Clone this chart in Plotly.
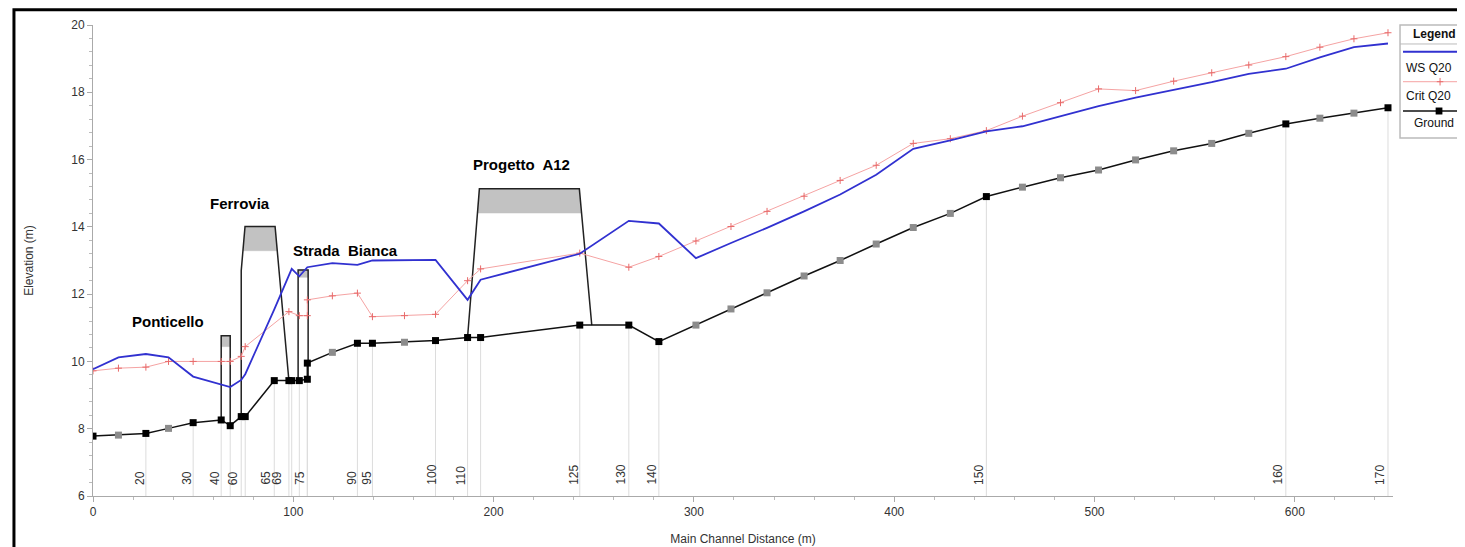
import plotly.graph_objects as go

# ground profile: distance (m), elevation (m), section type (xs = cross section, int = interpolated)
ground_x = [0, 12.7, 26.4, 37.7, 50, 64, 68.5, 74, 76, 90.5, 97.8, 99.2, 103, 107, 107,
            119.5, 132, 139.5, 155.5, 171, 187, 193.5, 243, 267.5, 282.5, 301, 318.5,
            336.5, 355, 373, 391, 409.5, 428, 446, 464, 483, 502, 520.5, 539.5, 558.5,
            577, 595.5, 612.5, 629.5, 646.5]
ground_y = [7.78, 7.81, 7.86, 8.01, 8.18, 8.26, 8.09, 8.36, 8.36, 9.43, 9.43, 9.43, 9.43, 9.47, 9.95,
            10.27, 10.54, 10.54, 10.57, 10.62, 10.71, 10.71, 11.08, 11.08, 10.59, 11.08, 11.56,
            12.04, 12.54, 13.0, 13.49, 13.98, 14.40, 14.90, 15.18, 15.46, 15.69, 15.99, 16.26, 16.48,
            16.78, 17.06, 17.23, 17.38, 17.54]
ground_kind = ['xs', 'int', 'xs', 'int', 'xs', 'xs', 'xs', 'xs', 'xs', 'xs', 'xs', 'xs', 'xs', 'xs', 'xs',
               'int', 'xs', 'xs', 'int', 'xs', 'xs', 'xs', 'xs', 'xs', 'xs', 'int', 'int',
               'int', 'int', 'int', 'int', 'int', 'int', 'xs', 'int', 'int', 'int', 'int', 'int', 'int',
               'int', 'xs', 'int', 'int', 'xs']

# water surface Q20
ws_x = [0, 12.7, 26.4, 37.7, 50, 64, 68.5, 74, 76, 90.5, 99.2, 103, 107, 119.5, 132, 139.5,
        155.5, 171, 187, 193.5, 243, 267.5, 282.5, 301, 318.5, 336.5, 355, 373, 391, 409.5,
        428, 446, 464, 483, 502, 520.5, 539.5, 558.5, 577, 595.5, 612.5, 629.5, 646.5]
ws_y = [9.77, 10.12, 10.22, 10.12, 9.55, 9.32, 9.24, 9.45, 9.62, 11.55, 12.75, 12.53, 12.8, 12.92, 12.87, 13.0,
        13.0, 13.02, 11.83, 12.43, 13.2, 14.18, 14.1, 13.07, 13.52, 13.97, 14.46, 14.96, 15.55, 16.32,
        16.57, 16.84, 16.99, 17.28, 17.59, 17.84, 18.06, 18.30, 18.55, 18.70, 19.04, 19.34, 19.45]

# critical depth Q20
crit_x = [0, 12.7, 26.4, 37.7, 50, 64, 68.5, 74, 76, 97.8, 103, 107, 107, 119.5, 132, 139.5,
          155.5, 171, 187, 193.5, 243, 267.5, 282.5, 301, 318.5, 336.5, 355, 373, 391, 409.5,
          428, 446, 464, 483, 502, 520.5, 539.5, 558.5, 577, 595.5, 612.5, 629.5, 646.5]
crit_y = [9.72, 9.8, 9.83, 10.0, 10.0, 10.0, 10.0, 10.15, 10.44, 11.48, 11.36, 11.36, 11.83, 11.95, 12.03, 11.33,
          11.36, 11.4, 12.4, 12.75, 13.22, 12.8, 13.12, 13.58, 14.01, 14.46, 14.91, 15.38, 15.83, 16.48,
          16.62, 16.86, 17.29, 17.69, 18.10, 18.05, 18.33, 18.58, 18.81, 19.06, 19.34, 19.59, 19.77]

# river station labels
station_labels = ['20', '30', '40', '60', '65', '69', '75', '90', '95', '100', '110',
                  '125', '130', '140', '150', '160', '170']
station_label_x = [23.5, 46.9, 60.9, 70.0, 86.2, 91.8, 103.3, 129.2, 136.7, 169.1, 184.1,
                   240.1, 263.4, 278.9, 442.3, 591.4, 642.5]

# bridges: outline and deck polygon
bridge_names = ['Ponticello', 'Ferrovia', 'Strada  Bianca', 'Progetto  A12']
bridge_label_x = [37.4, 73.4, 126.3, 213.7]
bridge_label_y = [11.18, 14.69, 13.29, 15.85]
bridge_outline_x = [[64, 64, 68.5, 68.5],
                    [74, 74, 75.9, 90.9, 97.8],
                    [102.4, 102.4, 107.4, 107.4],
                    [187, 192.9, 242.8, 249]]
bridge_outline_y = [[8.26, 10.76, 10.76, 8.09],
                    [8.36, 12.7, 14.01, 14.01, 9.43],
                    [9.43, 12.72, 12.72, 9.47],
                    [10.72, 15.13, 15.13, 11.08]]
deck_x = [[64, 68.5, 68.5, 64],
          [75.9, 90.9, 92.0, 74.9],
          [102.4, 107.4, 107.4, 102.4],
          [192.9, 242.8, 243.6, 192.0]]
deck_y = [[10.76, 10.76, 10.44, 10.44],
          [14.01, 14.01, 13.29, 13.29],
          [12.72, 12.72, 12.5, 12.5],
          [15.13, 15.13, 14.41, 14.41]]

y_min, y_max = 6, 20
x_min, x_max = 0, 649

fig = go.Figure()

# vertical station lines from ground down to the axis
vx, vy = [], []
for gx, gy, k in zip(ground_x, ground_y, ground_kind):
    if k == 'xs' and gx > 0:
        vx += [gx, gx, None]
        vy += [gy, y_min, None]
fig.add_trace(go.Scatter(x=vx, y=vy, mode='lines', line=dict(color='#dcdcdc', width=1),
                         hoverinfo='skip', showlegend=False))

for bx, by in zip(deck_x, deck_y):
    fig.add_trace(go.Scatter(x=bx + [bx[0]], y=by + [by[0]], mode='lines', fill='toself',
                             fillcolor='#c2c2c2', line=dict(color='#c2c2c2', width=0.5),
                             hoverinfo='skip', showlegend=False))
for bx, by in zip(bridge_outline_x, bridge_outline_y):
    fig.add_trace(go.Scatter(x=bx, y=by, mode='lines', line=dict(color='#222222', width=1.5),
                             hoverinfo='skip', showlegend=False))

fig.add_trace(go.Scatter(
    x=ground_x, y=ground_y, mode='lines+markers',
    line=dict(color='#111111', width=1.5),
    marker=dict(symbol='square', size=7,
                color=['#000000' if k == 'xs' else '#8c8c8c' for k in ground_kind]),
    name='Ground', showlegend=False))

fig.add_trace(go.Scatter(
    x=crit_x, y=crit_y, mode='lines+markers',
    line=dict(color='#f5a3a3', width=1),
    marker=dict(symbol='cross-thin', size=5, line=dict(color='#e86a6a', width=1)),
    name='Crit Q20', showlegend=False))

fig.add_trace(go.Scatter(
    x=ws_x, y=ws_y, mode='lines',
    line=dict(color='#3131d0', width=1.8),
    name='WS Q20', showlegend=False))

annotations = []
for lab, lx in zip(station_labels, station_label_x):
    annotations.append(dict(x=lx, y=6.27, xref='x', yref='y', text=lab, showarrow=False,
                            textangle=-90, xanchor='center', yanchor='bottom',
                            font=dict(size=12, color='#333333')))
for name, lx, ly in zip(bridge_names, bridge_label_x, bridge_label_y):
    annotations.append(dict(x=lx, y=ly, xref='x', yref='y', text='<b>' + name + '</b>',
                            showarrow=False, font=dict(size=15, color='#000000',
                                                       family='Liberation Sans')))

# legend box (drawn by hand, HEC-RAS style)
annotations += [
    dict(x=1.0140, y=0.9809, xref='paper', yref='paper', text='<b>Legend</b>', showarrow=False,
         xanchor='left', yanchor='middle', font=dict(size=12, color='#111')),
    dict(x=1.0085, y=0.9087, xref='paper', yref='paper', text='WS Q20', showarrow=False,
         xanchor='left', yanchor='middle', font=dict(size=12, color='#111')),
    dict(x=1.0085, y=0.8493, xref='paper', yref='paper', text='Crit Q20', showarrow=False,
         xanchor='left', yanchor='middle', font=dict(size=12, color='#111')),
    dict(x=1.0150, y=0.7920, xref='paper', yref='paper', text='Ground', showarrow=False,
         xanchor='left', yanchor='middle', font=dict(size=12, color='#111')),
]
shapes = [
    dict(type='rect', xref='paper', yref='paper', x0=1.0054, x1=1.08, y0=0.760, y1=1.0,
         line=dict(color='#bbbbbb', width=1.5), fillcolor='white', layer='below'),
    dict(type='line', xref='paper', yref='paper', x0=1.0054, x1=1.08, y0=0.9597, y1=0.9597,
         line=dict(color='#bbbbbb', width=1)),
    dict(type='line', xref='paper', yref='paper', x0=1.0077, x1=1.08, y0=0.9433, y1=0.9433,
         line=dict(color='#3131d0', width=2)),
    dict(type='line', xref='paper', yref='paper', x0=1.0077, x1=1.08, y0=0.8796, y1=0.8796,
         line=dict(color='#f5a3a3', width=1)),
    dict(type='line', xref='paper', yref='paper', x0=1.0337, x1=1.0387, y0=0.8796, y1=0.8796,
         line=dict(color='#e86a6a', width=1)),
    dict(type='line', xref='paper', yref='paper', x0=1.0362, x1=1.0362, y0=0.8716, y1=0.8876,
         line=dict(color='#e86a6a', width=1)),
    dict(type='line', xref='paper', yref='paper', x0=1.0077, x1=1.08, y0=0.8174, y1=0.8174,
         line=dict(color='#111111', width=1.5)),
    dict(type='rect', xref='paper', yref='paper', x0=1.0328, x1=1.0380, y0=0.8100, y1=0.8248,
         line=dict(color='#000', width=0), fillcolor='#000'),
    # outer black frame
    dict(type='rect', xref='paper', yref='paper', x0=-0.0608, x1=1.08, y0=-0.16, y1=1.0325,
         line=dict(color='#000000', width=3)),
]

# page body adds an 8px offset, so the figure is sized to the visible window
fig.update_layout(
    width=1457, height=539,
    paper_bgcolor='white', plot_bgcolor='white',
    margin=dict(l=85, r=72, t=17, b=51),
    font=dict(family='Liberation Sans, Arial, sans-serif', size=12, color='#333333'),
    annotations=annotations,
    shapes=shapes,
    showlegend=False,
)
fig.update_xaxes(
    range=[x_min, x_max], dtick=100, tick0=0, automargin=False,
    showgrid=False, zeroline=False, showline=True, linecolor='#aaaaaa', linewidth=1,
    ticks='outside', ticklen=5, tickcolor='#aaaaaa',
    minor=dict(dtick=20, ticks='outside', ticklen=3, tickcolor='#bbbbbb'),
    tickfont=dict(size=12, color='#333333'),
    title=dict(text='Main Channel Distance (m)', font=dict(size=12, color='#333333'), standoff=16),
)
fig.update_yaxes(
    range=[y_min, y_max], dtick=2, tick0=0, automargin=False,
    showgrid=False, zeroline=False, showline=True, linecolor='#aaaaaa', linewidth=1,
    ticks='outside', ticklen=5, tickcolor='#aaaaaa',
    minor=dict(dtick=0.4, ticks='outside', ticklen=3, tickcolor='#bbbbbb'),
    tickfont=dict(size=12, color='#333333'),
    title=dict(text='Elevation (m)', font=dict(size=12, color='#333333'), standoff=35),
)

fig.write_html('out.html')
